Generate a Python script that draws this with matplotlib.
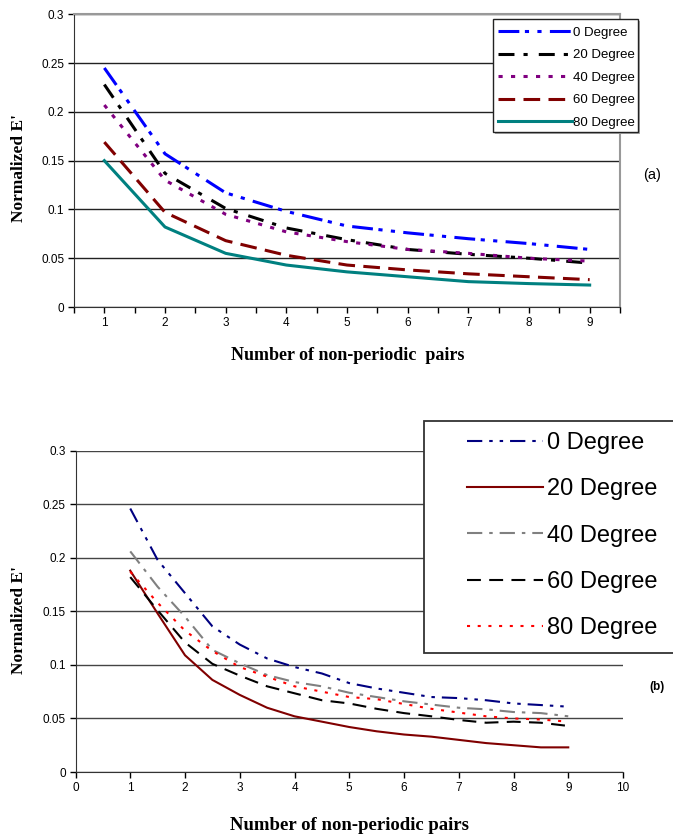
"""Normalized E' vs number of non-periodic pairs, panels (a) and (b)."""

import matplotlib
matplotlib.use('Agg')
import matplotlib.pyplot as plt
from matplotlib.patches import Rectangle

plt.rcParams['font.family'] = ['Liberation Sans', 'DejaVu Sans']
plt.rcParams['lines.scale_dashes'] = False

W, H = 673, 838

# ── data ─────────────────────────────────────────────────────────────────────

LABELS = ['0 Degree', '20 Degree', '40 Degree', '60 Degree', '80 Degree']

# panel (a): one point per pair count
PAIRS_A = [1, 2, 3, 4, 5, 6, 7, 8, 9]
A_DEG0  = [0.245, 0.157, 0.117, 0.098, 0.083, 0.076, 0.070, 0.065, 0.059]
A_DEG20 = [0.228, 0.137, 0.101, 0.081, 0.069, 0.059, 0.054, 0.050, 0.045]
A_DEG40 = [0.207, 0.130, 0.095, 0.077, 0.067, 0.059, 0.055, 0.050, 0.047]
A_DEG60 = [0.169, 0.097, 0.068, 0.053, 0.043, 0.038, 0.034, 0.031, 0.028]
A_DEG80 = [0.150, 0.082, 0.055, 0.043, 0.036, 0.031, 0.026, 0.024, 0.0225]

# panel (b): half steps
PAIRS_B = [1, 1.5, 2, 2.5, 3, 3.5, 4, 4.5, 5, 5.5, 6, 6.5, 7, 7.5, 8, 8.5, 9]
B_DEG0  = [0.246, 0.198, 0.167, 0.136, 0.119, 0.106, 0.098, 0.092, 0.083,
           0.078, 0.074, 0.070, 0.069, 0.067, 0.064, 0.0625, 0.061]
B_DEG20 = [0.188, 0.148, 0.109, 0.086, 0.072, 0.060, 0.052, 0.047, 0.042,
           0.038, 0.035, 0.033, 0.030, 0.027, 0.025, 0.023, 0.023]
B_DEG40 = [0.206, 0.173, 0.145, 0.114, 0.1015, 0.0905, 0.084, 0.080, 0.074,
           0.070, 0.066, 0.063, 0.060, 0.0585, 0.056, 0.055, 0.052]
B_DEG60 = [0.182, 0.151, 0.121, 0.101, 0.090, 0.080, 0.0735, 0.067, 0.064,
           0.059, 0.055, 0.052, 0.0486, 0.046, 0.047, 0.046, 0.043]
B_DEG80 = [0.187, 0.158, 0.132, 0.113, 0.098, 0.089, 0.080, 0.075, 0.070,
           0.068, 0.0635, 0.059, 0.0555, 0.052, 0.050, 0.049, 0.047]

Y_TICKS = [0, 0.05, 0.1, 0.15, 0.2, 0.25, 0.3]
Y_TICKLABELS = ['0', '0.05', '0.1', '0.15', '0.2', '0.25', '0.3']

# ── styles ───────────────────────────────────────────────────────────────────

STYLE_A = [
    dict(color='#0000FF', dashes=(15, 4, 3, 6, 3, 6)),
    dict(color='#000000', dashes=(11.5, 6.5, 3, 8)),
    dict(color='#800080', dashes=(3, 6)),
    dict(color='#800000', dashes=(12, 6)),
    dict(color='#008080', ls='-'),
]
STYLE_B = [
    dict(color='#000080', dashes=(11, 5, 2.5, 5, 2.5, 5)),
    dict(color='#800000', ls='-'),
    dict(color='#808080', dashes=(11, 5, 2.5, 5)),
    dict(color='#000000', dashes=(10, 6)),
    dict(color='#FF0000', dashes=(2.2, 5.5)),
]

SERIF = ['Liberation Serif', 'DejaVu Serif']


def fx(px):
    return px / W


def fy(py):
    return 1 - py / H


def _yaxis(ax):
    ax.set_ylim(0, 0.3)
    ax.set_yticks(Y_TICKS)
    ax.set_yticklabels(Y_TICKLABELS)
    ax.grid(axis='y', color='#222222', lw=1.0)
    ax.set_axisbelow(True)
    ax.tick_params(axis='both', direction='out', length=4, width=1,
                   labelsize=8.5, pad=3)


fig = plt.figure(figsize=(W / 100, H / 100), dpi=100)

# ── panel (a) ────────────────────────────────────────────────────────────────
ax_a = fig.add_axes([fx(74), fy(307), fx(620) - fx(74), fy(14.3) - fy(307)])
series_a = [A_DEG0, A_DEG20, A_DEG40, A_DEG60, A_DEG80]
handles_a = []
for vals, st in zip(series_a, STYLE_A):
    h, = ax_a.plot(PAIRS_A, vals, lw=2.2, **st)
    handles_a.append(h)
ax_a.set_xlim(0.5, 9.5)
ax_a.set_xticks(PAIRS_A)
ax_a.set_xticks([p + 0.5 for p in range(0, 10)], minor=True)
ax_a.tick_params(axis='x', which='minor', length=4, width=1, direction='out')
_yaxis(ax_a)
for s in ('top', 'right'):
    ax_a.spines[s].set_color('#999999')
    ax_a.spines[s].set_linewidth(1.5)
ax_a.spines['left'].set_color('#333333')
ax_a.spines['bottom'].set_color('#333333')

# legend box (a)
fig.patches.append(Rectangle((fx(495), fy(134)), fx(145), fy(19) - fy(132),
                             transform=fig.transFigure, facecolor='#aaaaaa',
                             edgecolor='none', zorder=1))
fig.patches.append(Rectangle((fx(493), fy(132)), fx(145), fy(19) - fy(132),
                             transform=fig.transFigure, facecolor='white',
                             edgecolor='#222222', lw=1.0, zorder=1.5))
fig.legend(handles_a, LABELS, loc='upper left',
           bbox_to_anchor=(fx(498), fy(26.5)), bbox_transform=fig.transFigure,
           frameon=False, borderpad=0, borderaxespad=0, handlelength=5.6,
           handletextpad=0.05, labelspacing=0.78, fontsize=9.5)

fig.text(fx(652), fy(175), '(a)', fontsize=10.5, ha='center', va='center')
fig.text(fx(19), fy(168), "Normalized E'", rotation=90, fontsize=12.5,
         fontweight='bold', family=SERIF, ha='center', va='center')
fig.text(fx(348), fy(356), 'Number of non-periodic  pairs', fontsize=13,
         fontweight='bold', family=SERIF, ha='center', va='center')

# ── panel (b) ────────────────────────────────────────────────────────────────
ax_b = fig.add_axes([fx(75.5), fy(772), fx(623) - fx(75.5), fy(450.7) - fy(772)])
series_b = [B_DEG0, B_DEG20, B_DEG40, B_DEG60, B_DEG80]
handles_b = []
for vals, st in zip(series_b, STYLE_B):
    h, = ax_b.plot(PAIRS_B, vals, lw=1.5, **st)
    handles_b.append(h)
ax_b.set_xlim(0, 10)
ax_b.set_xticks(range(0, 11))
_yaxis(ax_b)
ax_b.grid(axis='y', color='#444444', lw=1.0)
ax_b.spines['top'].set_visible(False)
ax_b.spines['right'].set_visible(False)
ax_b.spines['left'].set_color('#333333')
ax_b.spines['bottom'].set_color('#333333')

fig.patches.append(Rectangle((fx(424), fy(653)), fx(266), fy(420.7) - fy(653),
                             transform=fig.transFigure, facecolor='white',
                             edgecolor='#333333', lw=1.3, zorder=1.5))
fig.legend(handles_b, LABELS, loc='upper left',
           bbox_to_anchor=(fx(467), fy(432)), bbox_transform=fig.transFigure,
           frameon=False, borderpad=0, borderaxespad=0, handlelength=3.2,
           handletextpad=0.2, labelspacing=1.03, fontsize=17)

fig.text(fx(657), fy(687), '(b)', fontsize=8.5, fontweight='bold',
         ha='center', va='center')
fig.text(fx(19), fy(620), "Normalized E'", rotation=90, fontsize=12.5,
         fontweight='bold', family=SERIF, ha='center', va='center')
fig.text(fx(350), fy(825), 'Number of non-periodic pairs', fontsize=13.5,
         fontweight='bold', family=SERIF, ha='center', va='center')

fig.savefig('out.png', dpi=100)
